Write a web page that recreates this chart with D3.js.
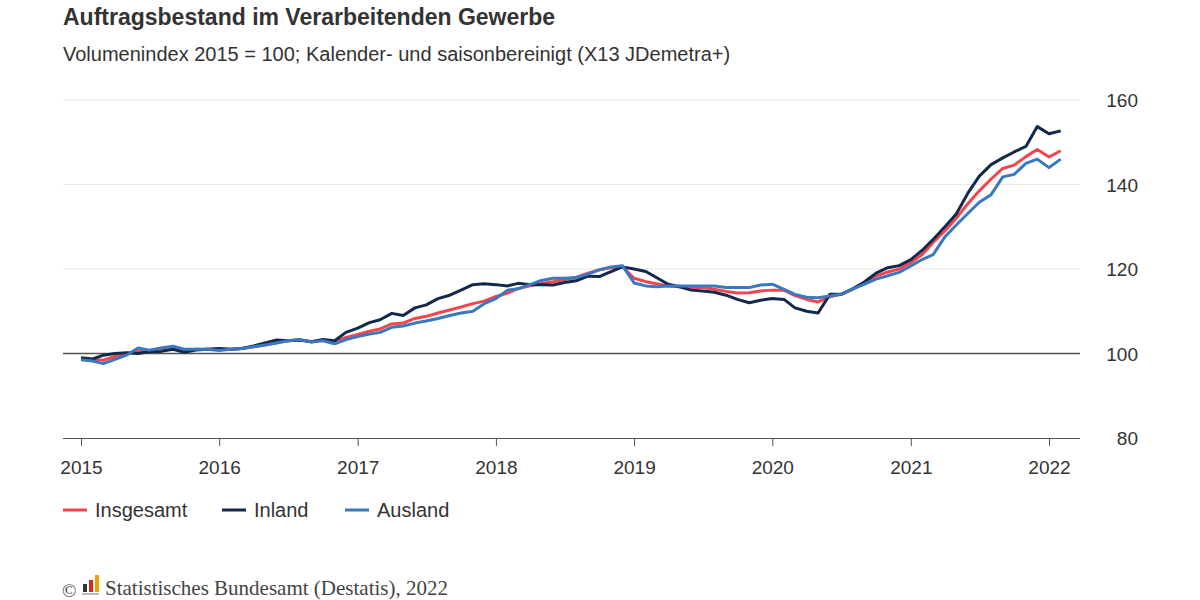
<!DOCTYPE html>
<html><head><meta charset="utf-8">
<script src="https://cdn.jsdelivr.net/npm/d3@7"></script>
<style>body{margin:0;background:#fff;font-family:"Liberation Sans",Arial,sans-serif;}</style>
</head><body><svg id="c" width="1200" height="600"></svg>
<script>
const start = [2015, 0];
const insgesamt = [98.8,98.5,98.4,99.3,100,100.5,100.7,101.2,101.1,100.8,101,101,
 101,101,101.2,101.6,102,102.6,103,103.2,102.8,103.2,102.8,103.8,
 104.5,105.3,105.8,107,107.2,108.3,108.8,109.6,110.3,111,111.8,112.4,
 113.5,114.3,115.4,116,116.6,117,117.5,118,119,119.8,120.3,120.6,
 117.8,117,116.5,116,115.8,115.6,115.6,115.2,114.7,114.3,114.4,114.8,
 115,115,113.7,112.8,112.2,113.4,114,115.3,116.8,118.3,119.3,120,
 121.5,123.5,126.3,129,132,135.5,138.5,141.3,143.8,144.6,146.6,148.3,
 146.5,148];
const inland = [99,98.7,99.6,100,100.2,100,100.4,100.5,101,100.3,100.8,101,
 101.2,101,101.2,101.8,102.5,103.2,103,103.2,102.8,103.3,103,105,
 106,107.3,108,109.5,109,110.8,111.5,113,113.8,115,116.3,116.5,
 116.3,116,116.6,116.3,116.3,116.2,116.8,117.2,118.3,118.2,119.4,120.5,
 120,119.4,118,116.4,115.8,115,114.8,114.5,113.8,112.8,112,112.6,
 113,112.8,110.8,110,109.6,114,114,115.3,117,119,120.3,120.8,
 122.2,124.5,127,130,133,138,142,144.7,146.3,147.7,149,153.7,
 152,152.7];
const ausland = [98.5,98.2,97.6,98.6,99.6,101.3,100.8,101.3,101.7,101,101,101,
 100.7,101,101.2,101.6,102,102.5,103,103.3,102.7,103,102.3,103.3,
 104,104.6,105,106.2,106.5,107.2,107.7,108.3,109,109.6,110,111.8,
 113,115,115.3,116.3,117.3,117.8,117.8,118,118.8,119.8,120.5,120.8,
 116.7,116,115.8,116,116,116,116,116,115.6,115.6,115.6,116.2,
 116.4,115.2,114,113.3,113.2,113.6,114,115.3,116.4,117.6,118.4,119.2,
 120.7,122.3,123.4,127.6,130.4,133.2,135.8,137.6,141.8,142.4,145,146,
 144,146];
const yTicks = [80,100,120,140,160];
const series = [
  {name:"Insgesamt", values:insgesamt, color:"#f4454f"},
  {name:"Inland", values:inland, color:"#13294b"},
  {name:"Ausland", values:ausland, color:"#3a78c0"}
];

const svg = d3.select("#c");
const date = i => new Date(start[0], start[1] + i, 1);
const x = d3.scaleTime().domain([new Date(2015,0,1), new Date(2022,0,1)]).range([81, 1049]);
const y = d3.scaleLinear().domain([80,160]).range([438,100]);

svg.append("text").attr("x",63).attr("y",25).attr("font-size",23).attr("font-weight","bold")
  .attr("fill","#333").text("Auftragsbestand im Verarbeitenden Gewerbe");
svg.append("text").attr("x",63).attr("y",61).attr("font-size",20).attr("fill","#333")
  .text("Volumenindex 2015 = 100; Kalender- und saisonbereinigt (X13 JDemetra+)");

svg.append("g").selectAll("line").data(yTicks.filter(d => d !== 80 && d !== 100)).join("line")
  .attr("x1",63).attr("x2",1080).attr("y1",y).attr("y2",y).attr("stroke","#e6e6e6");
svg.append("line").attr("x1",63).attr("x2",1080).attr("y1",y(100)).attr("y2",y(100)).attr("stroke","#555").attr("stroke-width",1.3);

svg.append("g").selectAll("text").data(yTicks).join("text")
  .attr("x",1138).attr("y",d => y(d)+7).attr("text-anchor","end").attr("font-size",19).attr("fill","#333").text(d => d);

const xa = svg.append("g").attr("transform","translate(0,438)")
  .call(d3.axisBottom(x).ticks(d3.timeYear.every(1)).tickSize(8).tickFormat(d3.timeFormat("%Y")));
xa.select(".domain").attr("d","M63,0.5H1080").attr("stroke","#555");
xa.selectAll(".tick line").attr("stroke","#555");
xa.selectAll(".tick text").attr("font-size",19).attr("fill","#333").attr("dy","1.3em")
  .attr("font-family","Liberation Sans, Arial, sans-serif");

const line = d3.line().x((d,i) => x(date(i))).y(d => y(d));
svg.append("g").selectAll("path").data(series).join("path")
  .attr("d", d => line(d.values)).attr("fill","none").attr("stroke", d => d.color).attr("stroke-width",3)
  .attr("stroke-linejoin","round");

const lx = [63, 222, 345];
const lg = svg.append("g").selectAll("g").data(series).join("g")
  .attr("transform",(d,i) => `translate(${lx[i]},510)`);
lg.append("line").attr("x1",0).attr("x2",24).attr("stroke",d => d.color).attr("stroke-width",3);
lg.append("text").attr("x",32).attr("y",7).attr("font-size",20).attr("fill","#333").text(d => d.name);

const f = svg.append("g").attr("font-family","Liberation Serif, serif").attr("fill","#444");
f.append("text").attr("x",62).attr("y",597).attr("font-size",19).text("©");
const icon = [["#333",8],["#d52b1e",12],["#e8a500",17]];
f.selectAll("rect").data(icon).join("rect")
  .attr("x",(d,i) => 83 + i*6).attr("width",4).attr("y",d => 592 - d[1]).attr("height",d => d[1]).attr("fill",d => d[0]);
f.append("rect").attr("x",82).attr("y",593).attr("width",17).attr("height",2).attr("fill","#bbb");
f.append("text").attr("x",105).attr("y",595).attr("font-size",21).text("Statistisches Bundesamt (Destatis), 2022");
</script></body></html>
